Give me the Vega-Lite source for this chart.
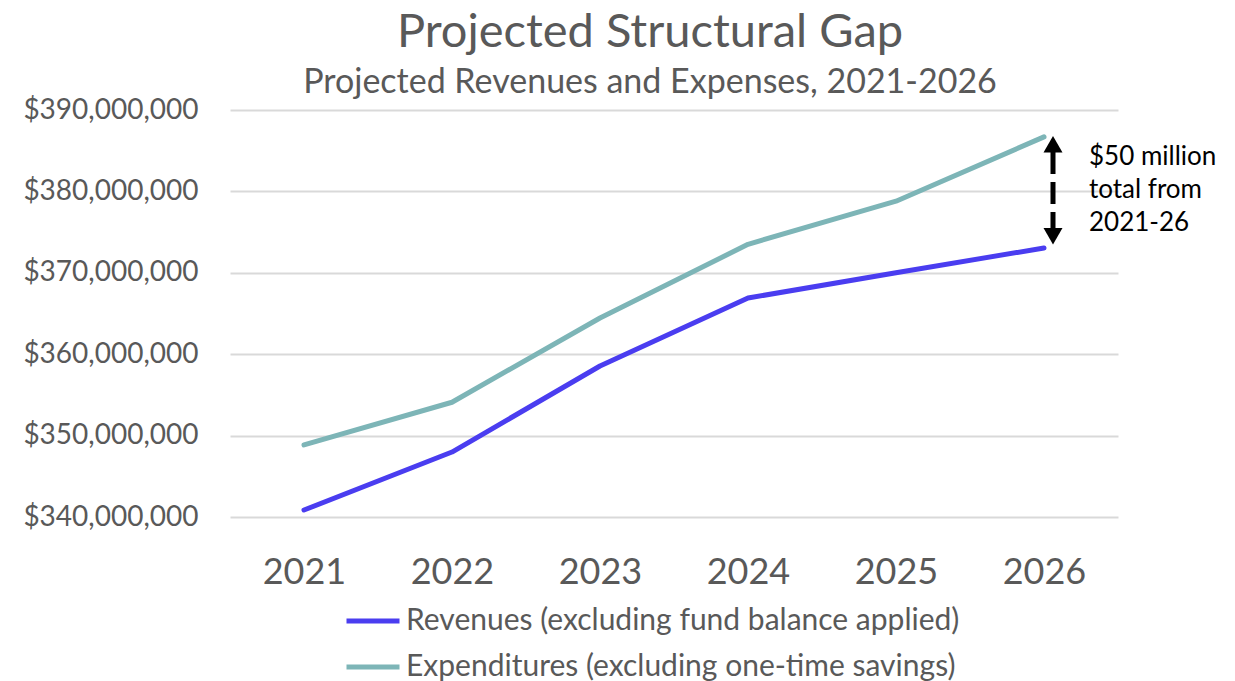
{
  "$schema": "https://vega.github.io/schema/vega-lite/v6.json",
  "autosize": "none",
  "width": 888,
  "height": 407,
  "padding": {"left": 230, "top": 110, "right": 117, "bottom": 164},
  "background": "white",
  "config": {"font": "Lato", "view": {"stroke": null}},
  "title": {
    "text": "Projected Structural Gap",
    "subtitle": "Projected Revenues and Expenses, 2021-2026",
    "anchor": "middle",
    "frame": "group",
    "dx": -24,
    "font": "Lato",
    "subtitleFont": "Lato",
    "fontSize": 47,
    "subtitleFontSize": 34,
    "fontWeight": "normal",
    "color": "#595959",
    "subtitleColor": "#595959",
    "offset": -5,
    "subtitlePadding": 9
  },
  "datasets": {
    "main": [
      {"year": "2021", "series": "Revenues (excluding fund balance applied)", "value": 340860000},
      {"year": "2022", "series": "Revenues (excluding fund balance applied)", "value": 347980000},
      {"year": "2023", "series": "Revenues (excluding fund balance applied)", "value": 358550000},
      {"year": "2024", "series": "Revenues (excluding fund balance applied)", "value": 366900000},
      {"year": "2025", "series": "Revenues (excluding fund balance applied)", "value": 370000000},
      {"year": "2026", "series": "Revenues (excluding fund balance applied)", "value": 373050000},
      {"year": "2021", "series": "Expenditures (excluding one-time savings)", "value": 348850000},
      {"year": "2022", "series": "Expenditures (excluding one-time savings)", "value": 354100000},
      {"year": "2023", "series": "Expenditures (excluding one-time savings)", "value": 364450000},
      {"year": "2024", "series": "Expenditures (excluding one-time savings)", "value": 373500000},
      {"year": "2025", "series": "Expenditures (excluding one-time savings)", "value": 378800000},
      {"year": "2026", "series": "Expenditures (excluding one-time savings)", "value": 386700000}
    ],
    "arrow": [
      {"year": "2026", "y1": 384840000, "y2": 375500000}
    ],
    "heads": [
      {"year": "2026", "value": 385800000, "shape": "triangle-up"},
      {"year": "2026", "value": 374500000, "shape": "triangle-down"}
    ],
    "note": [
      {"year": "2026", "value": 384200000, "label": "$50 million\ntotal from\n2021-26"}
    ]
  },
  "layer": [
    {
      "data": {"name": "main"},
      "mark": {"type": "line", "strokeWidth": 5, "strokeCap": "round", "strokeJoin": "round"},
      "encoding": {
        "x": {
          "field": "year", "type": "ordinal",
          "scale": {"type": "point", "padding": 0.5},
          "axis": {"title": null, "labelAngle": 0, "labelFontSize": 36, "labelColor": "#595959", "labelPadding": 38, "ticks": false, "domain": false, "grid": false, "labelFont": "Lato"}
        },
        "y": {
          "field": "value", "type": "quantitative",
          "scale": {"domain": [340000000, 390000000], "nice": false, "zero": false},
          "axis": {"title": null, "values": [340000000, 350000000, 360000000, 370000000, 380000000, 390000000], "format": "$,.0f", "labelFontSize": 28, "labelColor": "#595959", "labelPadding": 32, "ticks": false, "domain": false, "gridColor": "#D9D9D9", "gridWidth": 2, "labelFont": "Lato"}
        },
        "color": {
          "field": "series", "type": "nominal",
          "scale": {"domain": ["Revenues (excluding fund balance applied)", "Expenditures (excluding one-time savings)"], "range": ["#4A3DF0", "#7DB5B7"]},
          "legend": {"title": null, "orient": "none", "legendX": 114, "legendY": 482, "direction": "vertical", "symbolType": "stroke", "symbolSize": 2809, "symbolStrokeWidth": 5, "labelFontSize": 30, "labelColor": "#595959", "labelFont": "Lato", "labelOffset": 4, "rowPadding": 2, "labelLimit": 900}
        }
      }
    },
    {
      "data": {"name": "arrow"},
      "mark": {"type": "rule", "color": "black", "strokeWidth": 5, "strokeDash": [22, 8], "xOffset": 9},
      "encoding": {
        "x": {"field": "year", "type": "ordinal"},
        "y": {"field": "y1", "type": "quantitative"},
        "y2": {"field": "y2"}
      }
    },
    {
      "data": {"name": "heads"},
      "mark": {"type": "point", "filled": true, "color": "black", "opacity": 1, "size": 360, "xOffset": 9},
      "encoding": {
        "x": {"field": "year", "type": "ordinal"},
        "y": {"field": "value", "type": "quantitative"},
        "shape": {"field": "shape", "type": "nominal", "scale": null, "legend": null}
      }
    },
    {
      "data": {"name": "note"},
      "mark": {"type": "text", "align": "left", "baseline": "middle", "xOffset": 45, "fontSize": 26, "lineHeight": 33, "lineBreak": "\n", "color": "black", "font": "Lato"},
      "encoding": {
        "x": {"field": "year", "type": "ordinal"},
        "y": {"field": "value", "type": "quantitative"},
        "text": {"field": "label"}
      }
    }
  ]
}
